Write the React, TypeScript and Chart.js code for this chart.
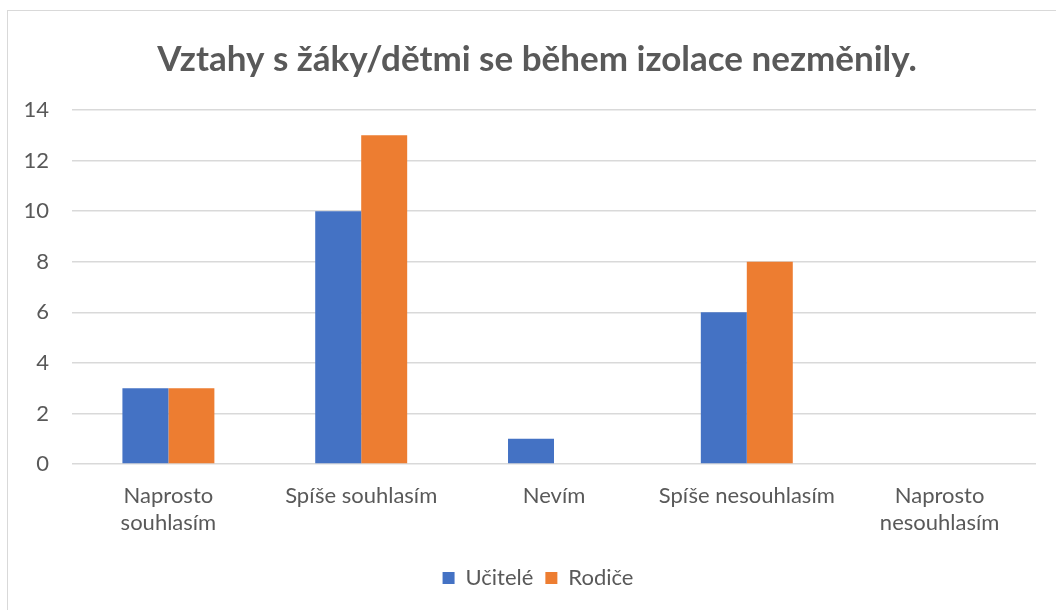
import React, { useEffect, useRef } from "react";
import { Chart, registerables } from "chart.js";

Chart.register(...registerables);

const categories: (string | string[])[] = [
  ["Naprosto", "souhlasím"],
  "Spíše souhlasím",
  "Nevím",
  "Spíše nesouhlasím",
  ["Naprosto", "nesouhlasím"],
];
const ucitele = [3, 10, 1, 6, 0];
const rodice = [3, 13, 0, 8, 0];
const titleText = "Vztahy s žáky/dětmi se během izolace nezměnily.";
const yMin = 0;
const yMax = 14;
const yStep = 2;

const FONT = "Lato, 'Open Sans', sans-serif";
const TEXT = "#595959";

// Title and legend are centred on the whole chart frame, not the padded area.
const shiftBlocks = {
  id: "shiftBlocks",
  afterLayout(chart: any) {
    const t = chart.titleBlock;
    if (t) {
      t.left += 8;
      t.right += 8;
    }
    const l = chart.legend;
    if (l) {
      l.left += 9;
      l.right += 9;
    }
  },
};

export default function App() {
  const ref = useRef<HTMLCanvasElement>(null);
  useEffect(() => {
    if (!ref.current) return;
    const chart = new Chart(ref.current, {
      type: "bar",
      data: {
        labels: categories,
        datasets: [
          { label: "Učitelé", data: ucitele, backgroundColor: "#4472C4", borderWidth: 0 },
          { label: "Rodiče", data: rodice, backgroundColor: "#ED7D31", borderWidth: 0 },
        ],
      },
      options: {
        animation: false,
        responsive: false,
        maintainAspectRatio: false,
        layout: { padding: { left: 22, right: 20, top: 0, bottom: 11 } },
        datasets: { bar: { categoryPercentage: 0.477, barPercentage: 1 } },
        plugins: {
          tooltip: { enabled: false },
          title: {
            display: true,
            text: titleText,
            color: TEXT,
            font: { family: FONT, size: 35, weight: "bold", lineHeight: 1.2 },
            padding: { top: 39, bottom: 29 },
          },
          legend: {
            position: "bottom",
            labels: {
              color: TEXT,
              font: { family: FONT, size: 22 },
              boxWidth: 12,
              boxHeight: 12,
              padding: 12,
            },
          },
        },
        scales: {
          x: {
            grid: { display: false, drawTicks: false },
            border: { display: false },
            ticks: {
              color: TEXT,
              font: { family: FONT, size: 22, lineHeight: 1.2 },
              padding: 19,
              maxRotation: 0,
              autoSkip: false,
            },
            afterFit: (s: any) => {
              s.height = 91;
            },
          },
          y: {
            min: yMin,
            max: yMax,
            grid: { color: "#D9D9D9", lineWidth: 1.5, drawTicks: false },
            border: { display: false },
            ticks: {
              stepSize: yStep,
              color: TEXT,
              font: { family: FONT, size: 22 },
              padding: 23,
            },
            afterFit: (s: any) => {
              s.width = 50;
            },
          },
        },
      },
      plugins: [shiftBlocks],
    });
    return () => chart.destroy();
  }, []);
  return (
    <div style={{ position: "fixed", left: 0, top: 0, width: 1056, height: 610, background: "#fff", overflow: "hidden" }}>
      <div
        style={{
          position: "absolute",
          left: 7,
          top: 10,
          width: 1100,
          height: 700,
          borderLeft: "1px solid #D9D9D9",
          borderTop: "1px solid #D9D9D9",
        }}
      />
      <canvas ref={ref} width={1056} height={610} style={{ position: "absolute", left: 0, top: 0 }} />
    </div>
  );
}
